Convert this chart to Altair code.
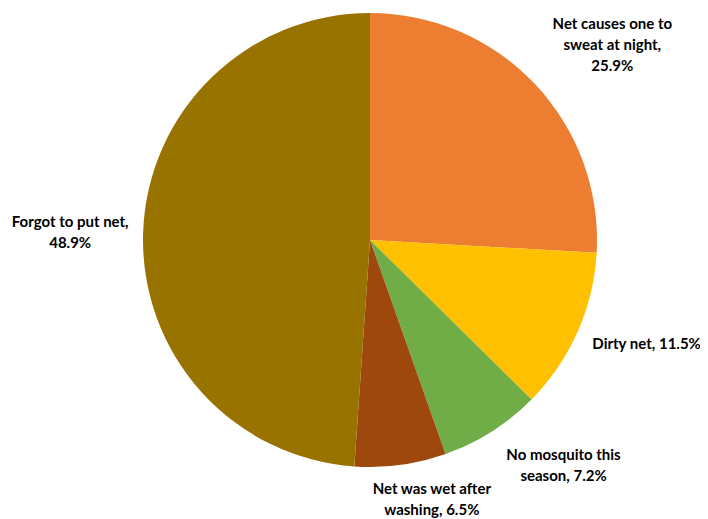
import altair as alt
import pandas as pd

categories = ["Net causes one to sweat at night", "Dirty net", "No mosquito this season",
              "Net was wet after washing", "Forgot to put net"]
values = [25.9, 11.5, 7.2, 6.5, 48.9]
labels = ["Net causes one to\nsweat at night,\n25.9%", "Dirty net, 11.5%",
          "No mosquito this\nseason, 7.2%", "Net was wet after\nwashing, 6.5%",
          "Forgot to put net,\n48.9%"]
colors = ["#ED7D31", "#FFC000", "#70AD47", "#9E480E", "#997300"]

df = pd.DataFrame({"category": categories, "value": values, "label": labels,
                   "idx": list(range(len(categories)))})

# label placement: (radius, dx, dy) around each slice's mid-angle
label_layout = [(310, 17, -3), (295, 7, -16), (294, 36, -33), (266, 26, -15), (300, 0, -8)]

base = alt.Chart(df)

pie = base.mark_arc().encode(
    theta=alt.Theta("value:Q", stack=True),
    order=alt.Order("idx:Q"),
    color=alt.Color("category:N", scale=alt.Scale(domain=categories, range=colors), legend=None),
)

layers = [pie]
for i, (r, dx, dy) in enumerate(label_layout):
    t = base.transform_joinaggregate(total="sum(value)").transform_window(
        cum="sum(value)", sort=[alt.SortField("idx")]
    ).transform_calculate(
        ang="(datum.cum - datum.value / 2) / datum.total * 2 * PI"
    ).transform_filter(alt.datum.idx == i).mark_text(
        radius=r, dx=dx, dy=dy, font="Lato", fontSize=15, fontWeight="bold",
        color="#000000", align="center", baseline="middle", lineBreak="\n", lineHeight=21,
    ).encode(
        theta=alt.Theta("ang:Q", scale=None),
        text="label:N",
    )
    layers.append(t)

chart = alt.layer(*layers).properties(
    width=454, height=454,
    autosize=alt.AutoSizeParams(type="none"),
    padding={"left": 135, "top": 5, "right": 103, "bottom": 52},
).configure_view(stroke=None)

chart.save("out.html", embed_options={"renderer": "svg", "actions": False})
